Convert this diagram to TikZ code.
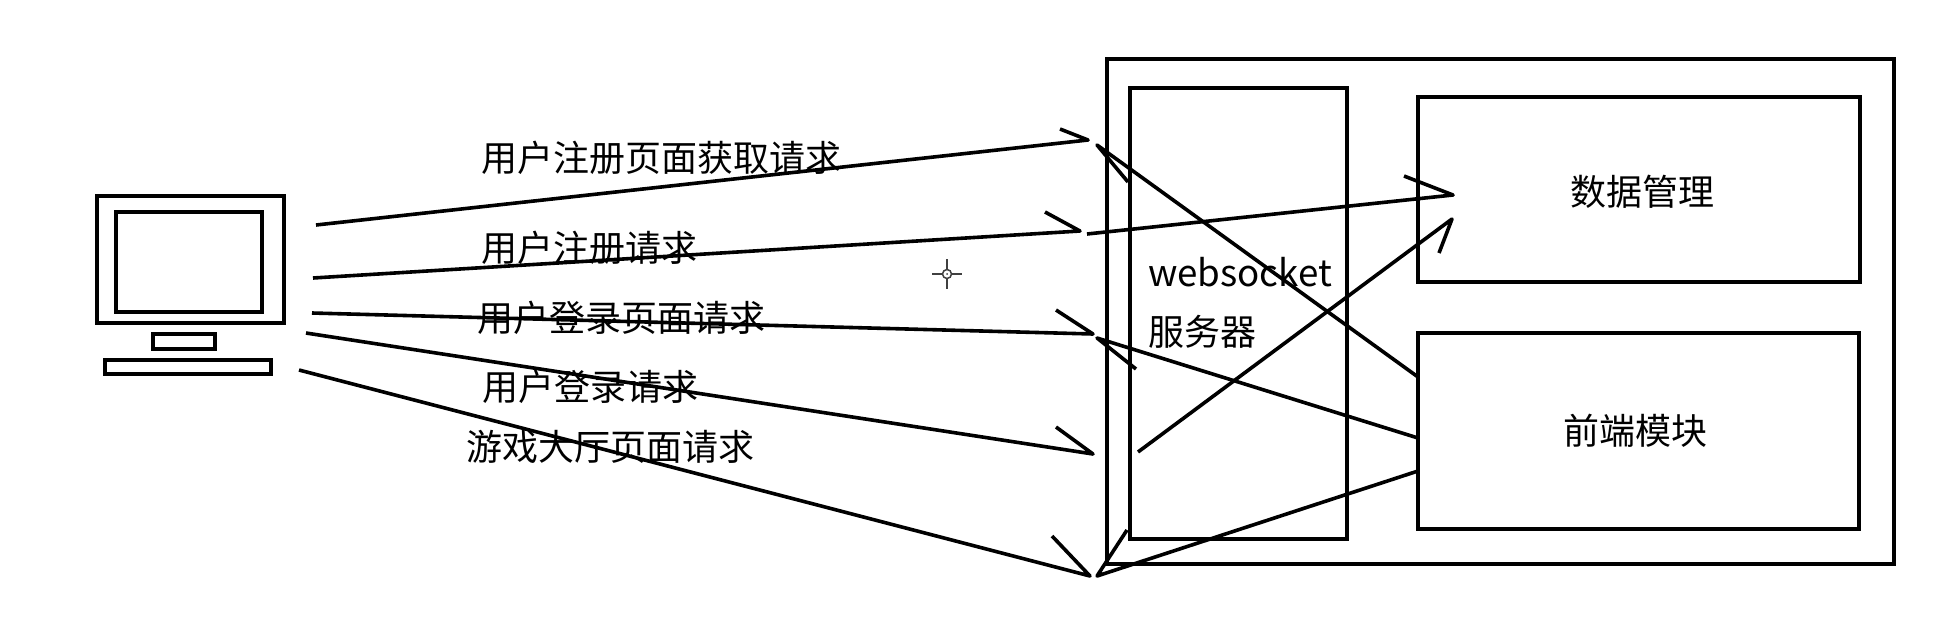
\documentclass[tikz,border=0pt]{standalone}
\usepackage{fontspec}
\setmainfont{Noto Sans CJK SC}
\usetikzlibrary{positioning}
\tikzset{
  box/.style={draw,line width=4pt,inner sep=0pt,outer sep=0pt},
  label text/.style={anchor=west,inner sep=0pt,font=\fontsize{36}{36}\selectfont},
  wire/.style={line width=3.6pt,line join=round},
}

\begin{document}
\begin{tikzpicture}[x=1pt,y=-1pt]
\useasboundingbox (0,0) rectangle (1948,630);
% Computer
\node[box,minimum width=187pt,minimum height=127pt] (monitor) at (190.5,259.5) {};
\node[box,minimum width=146pt,minimum height=100pt] (screen) at (188.5,261.5) {};
\node[box,minimum width=62pt,minimum height=15pt] (stand) at (184,341) {};
\node[box,minimum width=166pt,minimum height=14pt] (keyboard) at (188,366.5) {};

% Server side
\node[box,minimum width=787pt,minimum height=505pt] (server) at (1500.5,311.5) {};
\node[box,minimum width=217pt,minimum height=451pt] (wsbox) at (1238.5,313) {};
\node[box,minimum width=442pt,minimum height=185pt] (data) at (1639,189) {};
\node[box,minimum width=441pt,minimum height=196pt] (front) at (1638.5,431) {};
\node[label text,anchor=center] (datatext) at (1642,192) {数据管理};
\node[label text,anchor=center] (fronttext) at (1635,431) {前端模块};
\node[label text,font=\fontsize{36.7}{36}\selectfont] (wstext) at (1148,272) {websocket};
\node[label text] (wstext2) at (1148,332) {服务器};

% Request labels
\foreach \n/\x/\y/\t in {reqa/481/158/用户注册页面获取请求,reqb/481/248/用户注册请求,
    reqc/477/318/用户登录页面请求,reqd/482/387/用户登录请求,reqe/466/447/游戏大厅页面请求} {
  \node[label text] (\n) at (\x,\y) {\t};
}

% Line ends
\foreach \n/\x/\y in {sa/316/225,ta/1088/140,ba/1060/129,
    sb/313/278,tb/1080/231,bb/1045/212,
    sc/312/313,tc/1093/334,bc/1056/310,
    sd/306/333,td/1093/454,bd/1056/427,
    se/299/370,te/1090/576,be/1052/536,
    ra/1097/145,rb/1128/182,fa/1418/377,
    rc/1087/234,rd/1453/195,re/1404/176,
    rf/1097/338,rg/1136/369,fb/1418/438,
    rh/1138/452,ri/1452/219,rj/1439/253,
    rk/1097/576,rl/1127/530,fc/1418/471} {
  \coordinate (\n) at (\x,\y);
}

% Requests to the server
\draw[wire] (sa) -- (ta) -- (ba);
\draw[wire] (sb) -- (tb) -- (bb);
\draw[wire] (sc) -- (tc) -- (bc);
\draw[wire] (sd) -- (td) -- (bd);
\draw[wire] (se) -- (te) -- (be);

% Replies and forwarding
\draw[wire] (fa) -- (ra) -- (rb);
\draw[wire] (rc) -- (rd) -- (re);
\draw[wire] (fb) -- (rf) -- (rg);
\draw[wire] (rh) -- (ri) -- (rj);
\draw[wire] (fc) -- (rk) -- (rl);

% Mouse cursor
\node[draw=black!75,line width=1.5pt,circle,minimum size=9pt,inner sep=0pt] (cursor) at (947,274) {};
\fill[black!75] (cursor.center) circle (1pt);
\foreach \a/\x/\y in {north/0/-10,south/0/10,east/10/0,west/-10/0} {
  \draw[black!75,line width=1.5pt] (cursor.\a) -- ++(\x,\y);
}
\end{tikzpicture}
\end{document}
